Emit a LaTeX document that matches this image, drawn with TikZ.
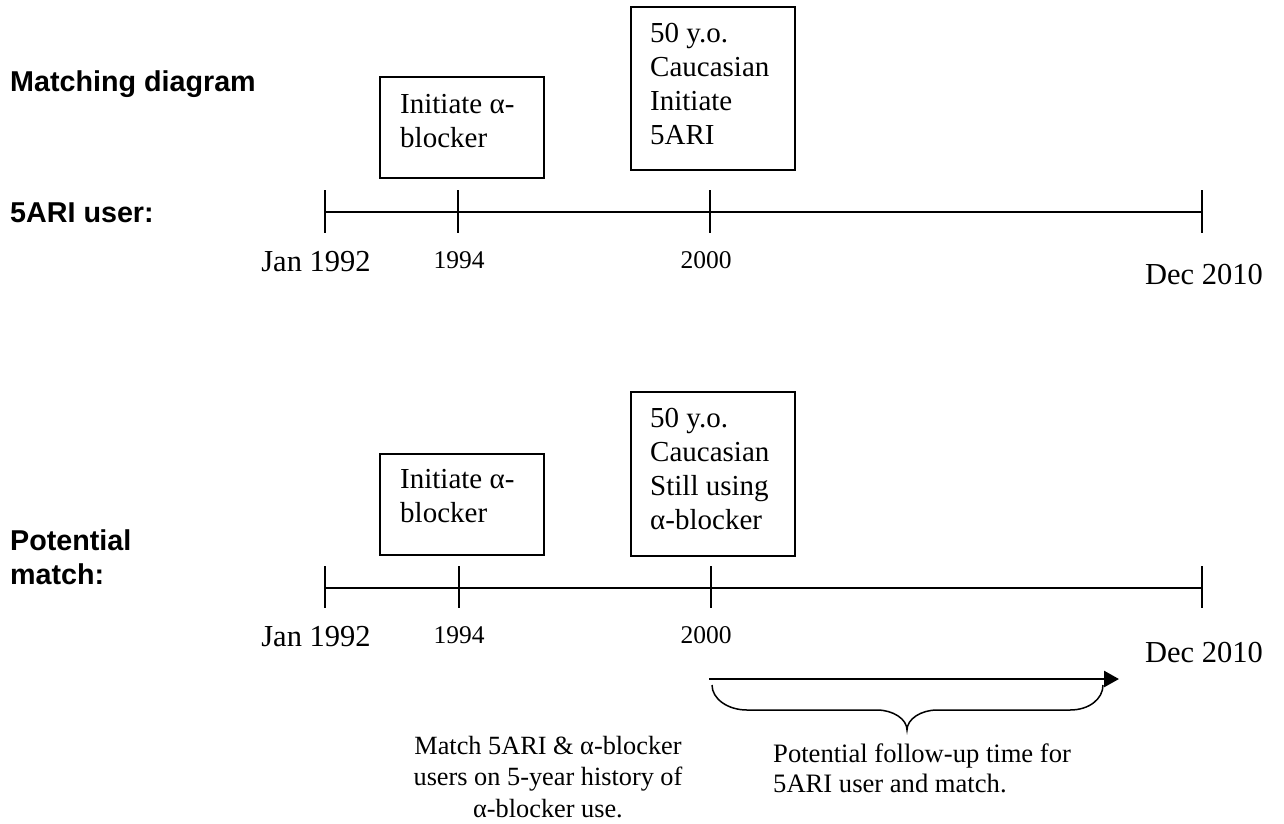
\documentclass[tikz,border=0pt]{standalone}
\usepackage{fontspec}
\setmainfont{Liberation Serif}
\setsansfont{Liberation Sans}
\usetikzlibrary{arrows.meta}
\begin{document}
\begin{tikzpicture}[x=1pt,y=-1pt,
  tl/.style={line width=1.6pt},
  evbox/.style={draw,line width=1.6pt,anchor=north west,inner sep=0pt,minimum width=164pt},
  boxtext/.style={anchor=base west,align=left,inner sep=0pt,font=\fontsize{29}{34}\selectfont},
  rowlabel/.style={anchor=base west,align=left,inner sep=0pt,font=\sffamily\bfseries\fontsize{28.7}{34}\selectfont},
  ticklabel/.style={anchor=base,inner sep=0pt,font=\fontsize{25.5}{30}\selectfont},
  endlabel/.style={anchor=base,inner sep=0pt,font=\fontsize{30.5}{36}\selectfont},
  notetext/.style={inner sep=0pt,font=\fontsize{26.3}{31.5}\selectfont}]
\useasboundingbox (0,0) rectangle (1284,823);

% row labels (base anchor = baseline of the last line)
\node[rowlabel] (lblA) at (10,91) {Matching diagram};
\node[rowlabel] (lblB) at (10,222) {5ARI user:};
\node[rowlabel] (lblC) at (10,584) {Potential\\match:};

% top timeline
\coordinate (a0) at (325,212);
\coordinate (a1) at (458,212);
\coordinate (a2) at (710,212);
\coordinate (a3) at (1202,212);
\draw[tl] (a0) -- (a3);
\foreach \p in {a0,a1,a2,a3} \draw[tl] ([yshift=22pt]\p) -- ([yshift=-21pt]\p);
\node[endlabel] (jA) at (316,271) {Jan 1992};
\node[ticklabel] (yA1) at (459,268) {1994};
\node[ticklabel] (yA2) at (706,268) {2000};
\node[endlabel] (dA) at (1204,284) {Dec 2010};

% top boxes
\node[evbox,minimum height=101pt] (boxA1) at (379,76) {};
\node[boxtext] (txtA1) at (400,147) {Initiate α-\\blocker};
\node[evbox,minimum height=163pt] (boxA2) at (630,6) {};
\node[boxtext] (txtA2) at (650,144) {50 y.o.\\Caucasian\\Initiate\\5ARI};

% bottom timeline
\coordinate (b0) at (325,588);
\coordinate (b1) at (459,588);
\coordinate (b2) at (711,588);
\coordinate (b3) at (1202,588);
\draw[tl] (b0) -- (b3);
\foreach \p in {b0,b1,b2,b3} \draw[tl] ([yshift=22pt]\p) -- ([yshift=-20pt]\p);
\node[endlabel] (jB) at (316,646) {Jan 1992};
\node[ticklabel] (yB1) at (459,643) {1994};
\node[ticklabel] (yB2) at (706,643) {2000};
\node[endlabel] (dB) at (1204,662) {Dec 2010};

% bottom boxes
\node[evbox,minimum height=101pt] (boxB1) at (379,453) {};
\node[boxtext] (txtB1) at (400,522) {Initiate α-\\blocker};
\node[evbox,minimum height=164pt] (boxB2) at (630,391) {};
\node[boxtext] (txtB2) at (650,529) {50 y.o.\\Caucasian\\Still using\\α-blocker};

% follow-up arrow and brace
\coordinate (fu0) at (709,679);
\coordinate (fu1) at (1119,679);
\draw[line width=2.6pt,-{Triangle[length=15pt,width=16pt]}] (fu0) -- (fu1);
\coordinate (br0) at (712,685);
\coordinate (br1) at (1103,685);
\coordinate (brtip) at (907,730);
\draw[line width=1.5pt] (br0) .. controls (712,699) and (728,710) .. (747,710)
  -- (877,710) .. controls (893,710) and (907,719) .. (brtip)
  .. controls (907,719) and (921,710) .. (937,710)
  -- (1070,710) .. controls (1089,710) and (1103,699) .. (br1);

% notes
\node[notetext,anchor=base,align=center] (noteM) at (548,817) {Match 5ARI \& α-blocker\\users on 5-year history of\\α-blocker use.};
\node[notetext,anchor=base west,align=left,font=\fontsize{26.6}{30.5}\selectfont] (noteF) at (773,792.5) {Potential follow-up time for\\5ARI user and match.};
\end{tikzpicture}
\end{document}
